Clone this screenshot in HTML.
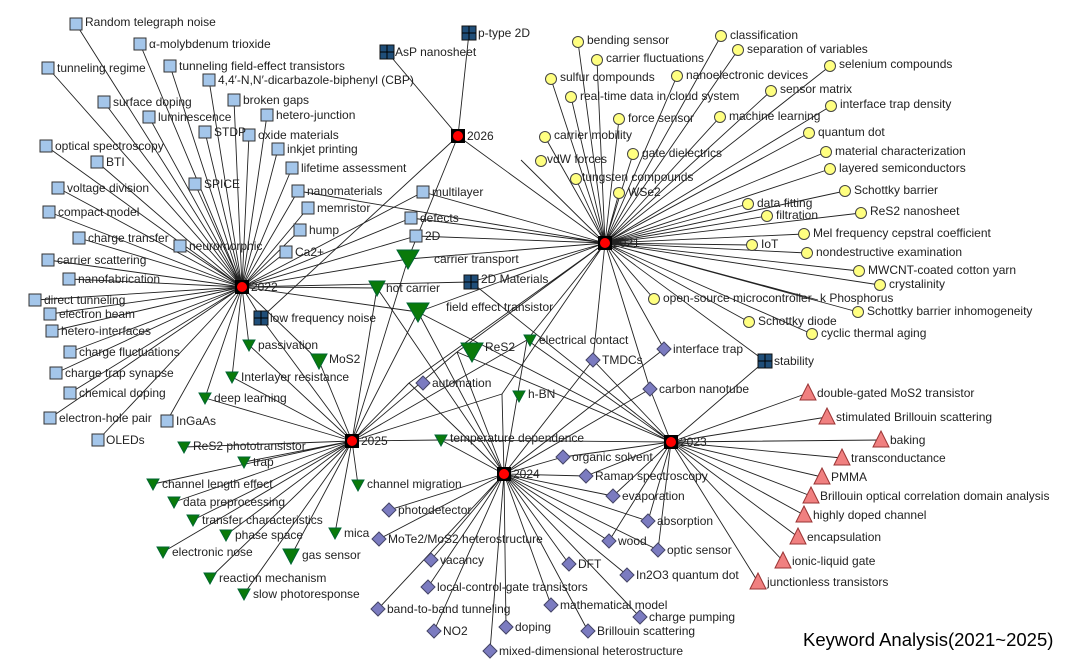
<!DOCTYPE html>
<html><head><meta charset="utf-8"><style>
html,body{margin:0;padding:0;background:#fff;}
svg{display:block;}
text{font-family:"Liberation Sans",sans-serif;font-size:12px;fill:#222;}
</style></head><body>
<svg width="1078" height="670" viewBox="0 0 1078 670" xmlns="http://www.w3.org/2000/svg">
<defs>
<rect id="sq" x="-6" y="-6" width="12" height="12" fill="#a4c6ea" stroke="#333" stroke-width="1"/>
<g id="nv"><rect x="-7" y="-7" width="14" height="14" fill="#1f4e79" stroke="#111"/><path d="M0 -7V7M-7 0H7" stroke="#000" stroke-width="1"/></g>
<circle id="ci" r="5.5" fill="#ffff80" stroke="#444"/>
<path id="tr" d="M-6 -5H6L0 6Z" fill="#0a7a0a" stroke="#063"/>
<path id="tl" d="M-11 -9H11L0 10Z" fill="#0a7a0a" stroke="#063"/>
<path id="tm" d="M-8 -7H8L0 8Z" fill="#0a7a0a" stroke="#063"/>
<path id="di" d="M0 -7L7 0L0 7L-7 0Z" fill="#7b7bc0" stroke="#446"/>
<path id="rt" d="M0 -9L8 7H-8Z" fill="#f08080" stroke="#933"/>
<g id="hub"><rect x="-7" y="-7" width="14" height="14" fill="#000"/><circle r="5" fill="#f00"/></g>
</defs>
<g stroke="#222" stroke-width="0.9" fill="none">
<path d="M242 287L76 24M242 287L140 44M242 287L48 68M242 287L170 66M242 287L209 80M242 287L104 102M242 287L234 100M242 287L149 117M242 287L267 115M242 287L205 132M242 287L249 135M242 287L46 146M242 287L278 149M242 287L97 162M242 287L292 168M242 287L195 184M242 287L58 188M242 287L298 191M242 287L49 212M242 287L308 208M242 287L300 230M242 287L79 238M242 287L180 246M242 287L286 252M242 287L48 260M242 287L69 279M242 287L35 300M242 287L50 314M242 287L52 331M242 287L70 352M242 287L56 373M242 287L70 393M242 287L50 418M242 287L167 421M242 287L98 440M242 287L423 192M242 287L411 218M242 287L416 236M242 287L408 259M242 287L377 288M242 287L418 312M242 287L261 318M242 287L249 345M242 287L232 377M242 287L205 398M242 287L471 282M242 287L319 361"/>
<path d="M458 136L387 52M458 136L469 33M458 136L261 318M458 136L408 259M458 136L605 243"/>
<path d="M605 243L578 42M605 243L721 36M605 243L597 60M605 243L738 50M605 243L551 79M605 243L830 66M605 243L677 76M605 243L571 97M605 243L771 91M605 243L619 119M605 243L720 117M605 243L831 106M605 243L545 137M605 243L809 133M605 243L521 160M605 243L633 154M605 243L826 152M605 243L830 169M605 243L576 179M605 243L619 193M605 243L845 191M605 243L748 204M605 243L767 216M605 243L861 213M605 243L804 234M605 243L752 245M605 243L807 253M605 243L859 271M605 243L880 285M605 243L654 299M605 243L818 300M605 243L858 312M605 243L749 322M605 243L812 334M605 243L423 192M605 243L411 218M605 243L416 236M605 243L408 259M605 243L471 282M605 243L418 312M605 243L457 352M605 243L527 340M605 243L593 360M605 243L664 349M605 243L650 389M605 243L502 394M605 243L409 383M605 243L765 361M605 243L298 191"/>
<path d="M352 441L377 288M352 441L418 312M352 441L457 352M352 441L409 383M352 441L502 394M352 441L441 440M352 441L319 361M352 441L249 345M352 441L232 377M352 441L205 398M352 441L184 447M352 441L244 462M352 441L153 484M352 441L174 502M352 441L193 520M352 441L226 535M352 441L335 533M352 441L163 552M352 441L291 556M352 441L210 578M352 441L244 594M352 441L358 485M352 441L408 259M352 441L527 340M352 441L261 318"/>
<path d="M504 474L441 440M504 474L409 383M504 474L457 352M504 474L418 312M504 474L502 394M504 474L650 389M504 474L593 360M504 474L664 349M504 474L563 457M504 474L586 476M504 474L613 496M504 474L648 521M504 474L609 541M504 474L658 550M504 474L389 510M504 474L379 539M504 474L431 560M504 474L569 564M504 474L627 575M504 474L428 587M504 474L378 609M504 474L551 605M504 474L640 617M504 474L434 631M504 474L506 627M504 474L588 631M504 474L490 651M504 474L377 288M504 474L527 340"/>
<path d="M671 442L808 393M671 442L827 417M671 442L881 440M671 442L842 458M671 442L822 477M671 442L811 496M671 442L804 515M671 442L798 537M671 442L783 561M671 442L758 582M671 442L650 389M671 442L765 361M671 442L457 352M671 442L418 312M671 442L593 360M671 442L563 457M671 442L586 476M671 442L613 496M671 442L648 521M671 442L658 550M671 442L609 541M671 442L441 440M671 442L471 282M671 442L527 340"/>
</g>
<g>
<use href="#sq" x="76" y="24"/><use href="#sq" x="140" y="44"/><use href="#sq" x="48" y="68"/><use href="#sq" x="170" y="66"/><use href="#sq" x="209" y="80"/><use href="#sq" x="104" y="102"/><use href="#sq" x="234" y="100"/><use href="#sq" x="149" y="117"/><use href="#sq" x="267" y="115"/><use href="#sq" x="205" y="132"/><use href="#sq" x="249" y="135"/><use href="#sq" x="46" y="146"/><use href="#sq" x="278" y="149"/><use href="#sq" x="97" y="162"/><use href="#sq" x="292" y="168"/><use href="#sq" x="195" y="184"/><use href="#sq" x="58" y="188"/><use href="#sq" x="298" y="191"/><use href="#sq" x="49" y="212"/><use href="#sq" x="308" y="208"/><use href="#sq" x="300" y="230"/><use href="#sq" x="79" y="238"/><use href="#sq" x="180" y="246"/><use href="#sq" x="286" y="252"/><use href="#sq" x="48" y="260"/><use href="#sq" x="69" y="279"/><use href="#sq" x="35" y="300"/><use href="#sq" x="50" y="314"/><use href="#sq" x="52" y="331"/><use href="#sq" x="70" y="352"/><use href="#sq" x="56" y="373"/><use href="#sq" x="70" y="393"/><use href="#sq" x="50" y="418"/><use href="#sq" x="167" y="421"/><use href="#sq" x="98" y="440"/><use href="#sq" x="423" y="192"/><use href="#sq" x="411" y="218"/><use href="#sq" x="416" y="236"/>
<use href="#nv" x="469" y="33"/><use href="#nv" x="387" y="52"/><use href="#nv" x="261" y="318"/><use href="#nv" x="471" y="282"/><use href="#nv" x="765" y="361"/>
<use href="#tl" x="408" y="259"/><use href="#tm" x="377" y="288"/><use href="#tl" x="418" y="312"/><use href="#tr" x="249" y="345"/><use href="#tm" x="319" y="361"/><use href="#tr" x="232" y="377"/><use href="#tr" x="205" y="398"/><use href="#tl" x="472" y="352"/><use href="#tr" x="530" y="340"/><use href="#tr" x="519" y="396"/><use href="#tr" x="441" y="440"/><use href="#tr" x="184" y="447"/><use href="#tr" x="244" y="462"/><use href="#tr" x="153" y="484"/><use href="#tr" x="174" y="502"/><use href="#tr" x="193" y="520"/><use href="#tr" x="226" y="535"/><use href="#tr" x="335" y="533"/><use href="#tr" x="163" y="552"/><use href="#tm" x="291" y="556"/><use href="#tr" x="210" y="578"/><use href="#tr" x="244" y="594"/><use href="#tr" x="358" y="485"/>
<use href="#di" x="423" y="383"/><use href="#di" x="593" y="360"/><use href="#di" x="664" y="349"/><use href="#di" x="650" y="389"/><use href="#di" x="563" y="457"/><use href="#di" x="586" y="476"/><use href="#di" x="613" y="496"/><use href="#di" x="648" y="521"/><use href="#di" x="609" y="541"/><use href="#di" x="658" y="550"/><use href="#di" x="389" y="510"/><use href="#di" x="379" y="539"/><use href="#di" x="431" y="560"/><use href="#di" x="569" y="564"/><use href="#di" x="627" y="575"/><use href="#di" x="428" y="587"/><use href="#di" x="378" y="609"/><use href="#di" x="551" y="605"/><use href="#di" x="640" y="617"/><use href="#di" x="434" y="631"/><use href="#di" x="506" y="627"/><use href="#di" x="588" y="631"/><use href="#di" x="490" y="651"/>
<use href="#rt" x="808" y="393"/><use href="#rt" x="827" y="417"/><use href="#rt" x="881" y="440"/><use href="#rt" x="842" y="458"/><use href="#rt" x="822" y="477"/><use href="#rt" x="811" y="496"/><use href="#rt" x="804" y="515"/><use href="#rt" x="798" y="537"/><use href="#rt" x="783" y="561"/><use href="#rt" x="758" y="582"/>
<use href="#ci" x="578" y="42"/><use href="#ci" x="721" y="36"/><use href="#ci" x="597" y="60"/><use href="#ci" x="738" y="50"/><use href="#ci" x="551" y="79"/><use href="#ci" x="830" y="66"/><use href="#ci" x="677" y="76"/><use href="#ci" x="571" y="97"/><use href="#ci" x="771" y="91"/><use href="#ci" x="619" y="119"/><use href="#ci" x="720" y="117"/><use href="#ci" x="831" y="106"/><use href="#ci" x="545" y="137"/><use href="#ci" x="809" y="133"/><use href="#ci" x="541" y="161"/><use href="#ci" x="633" y="154"/><use href="#ci" x="826" y="152"/><use href="#ci" x="830" y="169"/><use href="#ci" x="576" y="179"/><use href="#ci" x="619" y="193"/><use href="#ci" x="845" y="191"/><use href="#ci" x="748" y="204"/><use href="#ci" x="767" y="216"/><use href="#ci" x="861" y="213"/><use href="#ci" x="804" y="234"/><use href="#ci" x="752" y="245"/><use href="#ci" x="807" y="253"/><use href="#ci" x="859" y="271"/><use href="#ci" x="880" y="285"/><use href="#ci" x="654" y="299"/><use href="#ci" x="858" y="312"/><use href="#ci" x="749" y="322"/><use href="#ci" x="812" y="334"/>
<use href="#hub" x="242" y="287"/><use href="#hub" x="458" y="136"/><use href="#hub" x="605" y="243"/><use href="#hub" x="352" y="441"/><use href="#hub" x="504" y="474"/><use href="#hub" x="671" y="442"/>
</g>
<g>
<text x="85" y="26">Random telegraph noise</text><text x="149" y="48">α-molybdenum trioxide</text><text x="57" y="72">tunneling regime</text><text x="179" y="70">tunneling field-effect transistors</text><text x="218" y="84">4,4′-N,N′-dicarbazole-biphenyl (CBP)</text><text x="113" y="106">surface doping</text><text x="243" y="104">broken gaps</text><text x="158" y="121">luminescence</text><text x="276" y="119">hetero-junction</text><text x="214" y="136">STDP</text><text x="258" y="139">oxide materials</text><text x="55" y="150">optical spectroscopy</text><text x="287" y="153">inkjet printing</text><text x="106" y="166">BTI</text><text x="301" y="172">lifetime assessment</text><text x="204" y="188">SPICE</text><text x="67" y="192">voltage division</text><text x="307" y="195">nanomaterials</text><text x="58" y="216">compact model</text><text x="317" y="212">memristor</text><text x="309" y="234">hump</text><text x="88" y="242">charge transfer</text><text x="189" y="250">neuromorphic</text><text x="295" y="256">Ca2+</text><text x="57" y="264">carrier scattering</text><text x="78" y="283">nanofabrication</text><text x="44" y="304">direct tunneling</text><text x="59" y="318">electron beam</text><text x="61" y="335">hetero-interfaces</text><text x="79" y="356">charge fluctuations</text><text x="65" y="377">charge trap synapse</text><text x="79" y="397">chemical doping</text><text x="59" y="422">electron-hole pair</text><text x="176" y="425">InGaAs</text><text x="106" y="444">OLEDs</text>
<text x="432" y="196">multilayer</text><text x="420" y="222">defects</text><text x="425" y="240">2D</text>
<text x="478" y="37">p-type 2D</text><text x="395" y="56">AsP nanosheet</text><text x="270" y="322">low frequency noise</text><text x="481" y="283">2D Materials</text><text x="774" y="365">stability</text>
<text x="467" y="140">2026</text><text x="251" y="291">2022</text><text x="613" y="247">2021</text><text x="361" y="445">2025</text><text x="513" y="478">2024</text><text x="680" y="446">2023</text>
<text x="434" y="263">carrier transport</text><text x="386" y="292">hot carrier</text><text x="446" y="311">field effect transistor</text><text x="258" y="349">passivation</text><text x="329" y="363">MoS2</text><text x="241" y="381">Interlayer resistance</text><text x="214" y="402">deep learning</text><text x="485" y="351">ReS2</text><text x="539" y="344">electrical contact</text><text x="528" y="398">h-BN</text><text x="450" y="442">temperature dependence</text><text x="193" y="450">ReS2 phototransistor</text><text x="253" y="466">trap</text><text x="162" y="488">channel length effect</text><text x="183" y="506">data preprocessing</text><text x="202" y="524">transfer characteristics</text><text x="235" y="539">phase space</text><text x="344" y="537">mica</text><text x="172" y="556">electronic nose</text><text x="302" y="559">gas sensor</text><text x="219" y="582">reaction mechanism</text><text x="253" y="598">slow photoresponse</text><text x="367" y="488">channel migration</text>
<text x="432" y="387">automation</text><text x="602" y="364">TMDCs</text><text x="673" y="353">interface trap</text><text x="659" y="393">carbon nanotube</text><text x="572" y="461">organic solvent</text><text x="595" y="480">Raman spectroscopy</text><text x="622" y="500">evaporation</text><text x="657" y="525">absorption</text><text x="618" y="545">wood</text><text x="667" y="554">optic sensor</text><text x="398" y="514">photodetector</text><text x="388" y="543">MoTe2/MoS2 heterostructure</text><text x="440" y="564">vacancy</text><text x="578" y="568">DFT</text><text x="636" y="579">In2O3 quantum dot</text><text x="437" y="591">local-control-gate transistors</text><text x="387" y="613">band-to-band tunneling</text><text x="560" y="609">mathematical model</text><text x="649" y="621">charge pumping</text><text x="443" y="635">NO2</text><text x="515" y="631">doping</text><text x="597" y="635">Brillouin scattering</text><text x="499" y="655">mixed-dimensional heterostructure</text>
<text x="817" y="397">double-gated MoS2 transistor</text><text x="836" y="421">stimulated Brillouin scattering</text><text x="890" y="444">baking</text><text x="851" y="462">transconductance</text><text x="831" y="481">PMMA</text><text x="820" y="500">Brillouin optical correlation domain analysis</text><text x="813" y="519">highly doped channel</text><text x="807" y="541">encapsulation</text><text x="792" y="565">ionic-liquid gate</text><text x="767" y="586">junctionless transistors</text>
<text x="587" y="44">bending sensor</text><text x="730" y="39">classification</text><text x="606" y="62">carrier fluctuations</text><text x="747" y="53">separation of variables</text><text x="560" y="81">sulfur compounds</text><text x="839" y="68">selenium compounds</text><text x="686" y="79">nanoelectronic devices</text><text x="580" y="100">real-time data in cloud system</text><text x="780" y="93">sensor matrix</text><text x="628" y="122">force sensor</text><text x="729" y="120">machine learning</text><text x="840" y="108">interface trap density</text><text x="554" y="139">carrier mobility</text><text x="818" y="136">quantum dot</text><text x="547" y="163">vdW forces</text><text x="642" y="157">gate dielectrics</text><text x="835" y="155">material characterization</text><text x="839" y="172">layered semiconductors</text><text x="582" y="181">tungsten compounds</text><text x="628" y="196">WSe2</text><text x="854" y="194">Schottky barrier</text><text x="757" y="207">data fitting</text><text x="776" y="219">filtration</text><text x="870" y="215">ReS2 nanosheet</text><text x="813" y="237">Mel frequency cepstral coefficient</text><text x="761" y="248">IoT</text><text x="816" y="256">nondestructive examination</text><text x="868" y="274">MWCNT-coated cotton yarn</text><text x="889" y="288">crystalinity</text><text x="663" y="302">open-source microcontroller</text><text x="820" y="302">k Phosphorus</text><text x="867" y="315">Schottky barrier inhomogeneity</text><text x="758" y="325">Schottky diode</text><text x="821" y="337">cyclic thermal aging</text>
<text x="803" y="646" style="font-size:18.5px;fill:#000">Keyword Analysis(2021~2025)</text>
</g>
</svg>
</body></html>
